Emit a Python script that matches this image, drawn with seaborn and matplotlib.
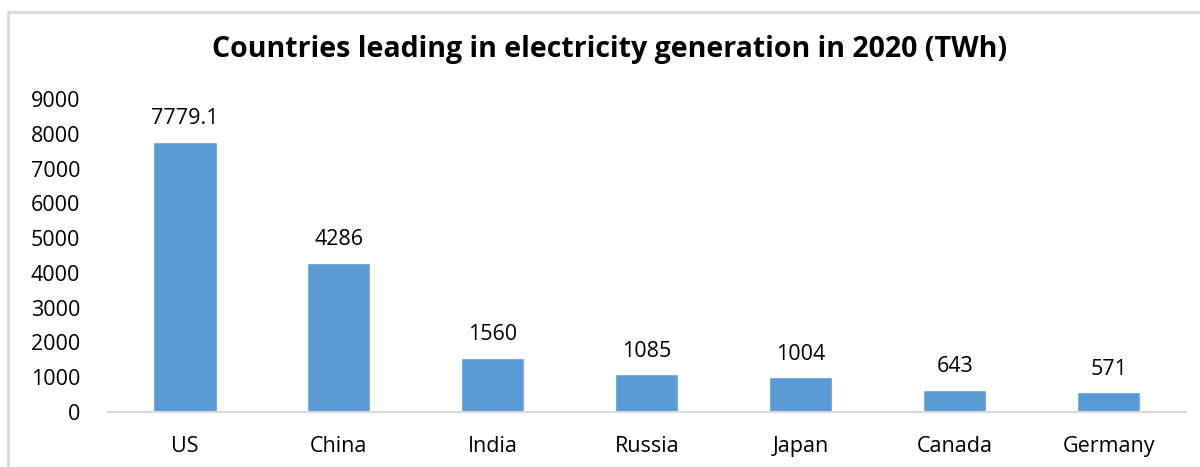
import matplotlib
matplotlib.use("Agg")
import matplotlib.pyplot as plt
import seaborn as sns
import pandas as pd
from matplotlib.patches import Rectangle

countries = ["US", "China", "India", "Russia", "Japan", "Canada", "Germany"]
generation = [7779.1, 4286, 1560, 1085, 1004, 643, 571]
labels = ["7779.1", "4286", "1560", "1085", "1004", "643", "571"]
yticks = [0, 1000, 2000, 3000, 4000, 5000, 6000, 7000, 8000, 9000]
title = "Countries leading in electricity generation in 2020 (TWh)"

sns.set_theme(style="white")
plt.rcParams['font.family'] = ['Open Sans', 'DejaVu Sans']

df = pd.DataFrame({"country": countries, "value": generation})

fig = plt.figure(figsize=(12, 4.67), dpi=100)
ax = fig.add_axes([0.09, 0.1178, 0.898, 0.670])
sns.barplot(data=df, x="country", y="value", color="#5B9BD5", width=0.41,
            saturation=1, ax=ax)

ax.set_ylim(0, 9000)
ax.set_xlim(-0.5, len(countries) - 0.5)
ax.set_yticks(yticks)
ax.set_yticklabels([str(t) for t in yticks], fontsize=15.5, color="#000000")
ax.tick_params(axis="y", length=0, pad=20)
ax.tick_params(axis="x", length=0, pad=17, labelsize=15.5, labelcolor="#000000")
ax.set_xlabel("")
ax.set_ylabel("")
for s in ["top", "right", "left"]:
    ax.spines[s].set_visible(False)
ax.spines["bottom"].set_color("#D9D9D9")
ax.spines["bottom"].set_linewidth(1.5)

for i, (v, lab) in enumerate(zip(generation, labels)):
    ax.annotate(lab, (i, v), xytext=(0, 9), textcoords="offset points",
                ha="center", va="bottom", fontsize=15.5, color="#000000")

fig.text(0.508, 0.893, title, ha="center", va="center", fontsize=20.5,
         fontweight="bold", color="#000000")

fig.patches.append(Rectangle((8 / 1200, -0.1), 1.2, 1 - 11.5 / 467 + 0.1,
                             transform=fig.transFigure, fill=False,
                             edgecolor="#D9D9D9", linewidth=2))

fig.savefig("out.png", dpi=100, facecolor="white")
